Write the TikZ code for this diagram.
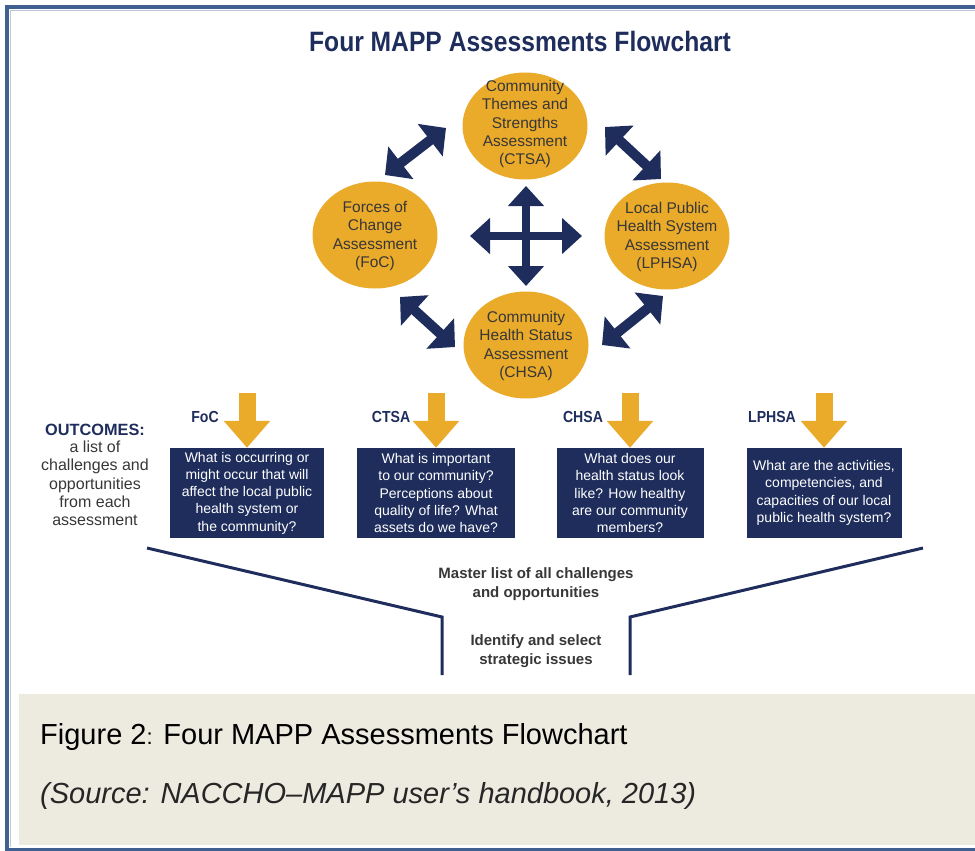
\documentclass[tikz,border=0pt]{standalone}
\usepackage{fontspec}
\setmainfont{Liberation Sans}
\newfontfamily\condfont[FakeStretch=0.88]{Liberation Sans}
\usetikzlibrary{shapes.geometric, arrows.meta, positioning}
\definecolor{mappnavy}{RGB}{30,45,92}
\definecolor{mappgold}{RGB}{234,170,42}
\definecolor{frameblue}{RGB}{64,96,145}
\definecolor{capbg}{RGB}{237,234,224}
\definecolor{inktext}{RGB}{55,55,55}

\begin{document}
\begin{tikzpicture}[x=1pt, y=-1pt,
  assess/.style={ellipse, fill=mappgold, minimum width=125pt, minimum height=107pt, inner sep=0pt},
  assesstext/.style={align=center, text=inktext, inner sep=0pt, font=\fontsize{15.5}{18.3}\selectfont},
  both/.style={draw=mappnavy, line width=10pt, >={Triangle[length=20pt,width=40pt]}, <->},
  cross/.style={draw=mappnavy, line width=8pt, >={Triangle[length=20pt,width=35pt]}, <->},
  tag/.style={text=mappnavy, inner sep=0pt, font=\condfont\bfseries\fontsize{16}{18}\selectfont},
  feed/.style={draw=mappgold, line width=17pt, -{Triangle[length=27pt,width=45pt]}},
  qbox/.style={fill=mappnavy, text=white, align=center, minimum height=90pt, inner sep=0pt, font=\fontsize{14}{17.3}\selectfont},
  stagetext/.style={align=center, text=inktext, inner sep=0pt, font=\bfseries\fontsize{15}{18.5}\selectfont},
  funnel/.style={draw=mappnavy, line width=3pt}]
\useasboundingbox (0,0) rectangle (975,851);

% caption panel and frame
\fill[capbg] (19,694) rectangle (975,845);
\draw[frameblue, line width=4pt] (975,7) -- (7,7) -- (7,851);
\draw[frameblue!35, line width=1pt] (975,10.5) -- (10.5,10.5) -- (10.5,847);
\draw[frameblue, line width=3pt] (7,849.5) -- (975,849.5);

\node[text=mappnavy, font=\condfont\bfseries\fontsize{28}{30}\selectfont] (title) at (520,41) {Four MAPP Assessments Flowchart};

% the four assessments
\node[assess] (ctsa) at (525,126) {};
\node[assess] (foc) at (375,235) {};
\node[assess] (lphsa) at (667,236) {};
\node[assess] (chsa) at (526,345) {};
\node[assesstext] (ctsaT) at (525,124) {Community\\Themes and\\Strengths\\Assessment\\(CTSA)};
\node[assesstext] (focT) at (375,236) {Forces of\\Change\\Assessment\\(FoC)};
\node[assesstext] (lphsaT) at (667,237) {Local Public\\Health System\\Assessment\\(LPHSA)};
\node[assesstext] (chsaT) at (526,346) {Community\\Health Status\\Assessment\\(CHSA)};

\coordinate (nwA) at (385,175); \coordinate (nwB) at (446,128);
\coordinate (neA) at (605,127); \coordinate (neB) at (661,179);
\coordinate (swA) at (400,297); \coordinate (swB) at (455,347);
\coordinate (seA) at (663,296); \coordinate (seB) at (602,345);
\draw[both] (nwA) -- (nwB);
\draw[both] (neA) -- (neB);
\draw[both] (swA) -- (swB);
\draw[both] (seA) -- (seB);

\coordinate (crossW) at (470,236); \coordinate (crossE) at (582,236);
\coordinate (crossN) at (526,186); \coordinate (crossS) at (526,286);
\draw[cross] (crossW) -- (crossE);
\draw[cross] (crossN) -- (crossS);

% outcomes
\node[text=mappnavy, inner sep=0pt, font=\bfseries\fontsize{16.3}{18}\selectfont] (outhead) at (95,430) {OUTCOMES:};
\node[below=5pt of outhead, align=center, text=inktext, inner sep=0pt, font=\fontsize{16}{18.2}\selectfont] (outlist) {a list of\\challenges and\\opportunities\\from each\\assessment};

\node[qbox, minimum width=154pt] (qfoc) at (247,493) {What is occurring or\\might occur that will\\affect the local public\\health system or\\the community?};
\node[qbox, minimum width=158pt] (qctsa) at (436,493) {What is important\\to our community?\\Perceptions about\\quality of life? What\\assets do we have?};
\node[qbox, minimum width=147pt] (qchsa) at (630,493) {What does our\\health status look\\like? How healthy\\are our community\\members?};
\node[qbox, minimum width=155pt] (qlphsa) at (824,493) {What are the activities,\\competencies, and\\capacities of our local\\public health system?};

\node[tag] (tfoc) at (205,417) {FoC};
\node[tag] (tctsa) at (391,417) {CTSA};
\node[tag] (tchsa) at (583,417) {CHSA};
\node[tag] (tlphsa) at (772,417) {LPHSA};

\coordinate (feedline) at (0,393);
\foreach \nm in {foc,ctsa,chsa,lphsa} {
  \coordinate (f\nm) at (q\nm.north |- feedline);
  \draw[feed] (f\nm) -- (q\nm.north);
}

% funnel
\coordinate (fL) at (147,548); \coordinate (fLc) at (442,617); \coordinate (fLb) at (442,675);
\coordinate (fR) at (923,548); \coordinate (fRc) at (630,617); \coordinate (fRb) at (630,675);
\draw[funnel] (fL) -- (fLc) -- (fLb);
\draw[funnel] (fR) -- (fRc) -- (fRb);
\node[stagetext] (master) at (536,584) {Master list of all challenges\\and opportunities};
\node[stagetext] (select) at (536,651) {Identify and select\\strategic issues};

\node[anchor=base west, inner sep=0pt, font=\fontsize{29}{32}\selectfont] (cap) at (40,744) {Figure 2{\fontsize{22}{24}\selectfont:} Four MAPP Assessments Flowchart};
\node[anchor=base west, inner sep=0pt, text=black!85, font=\itshape\fontsize{29}{32}\selectfont] (src) at (40,803) {(Source: NACCHO–MAPP user’s handbook, 2013)};
\end{tikzpicture}
\end{document}
